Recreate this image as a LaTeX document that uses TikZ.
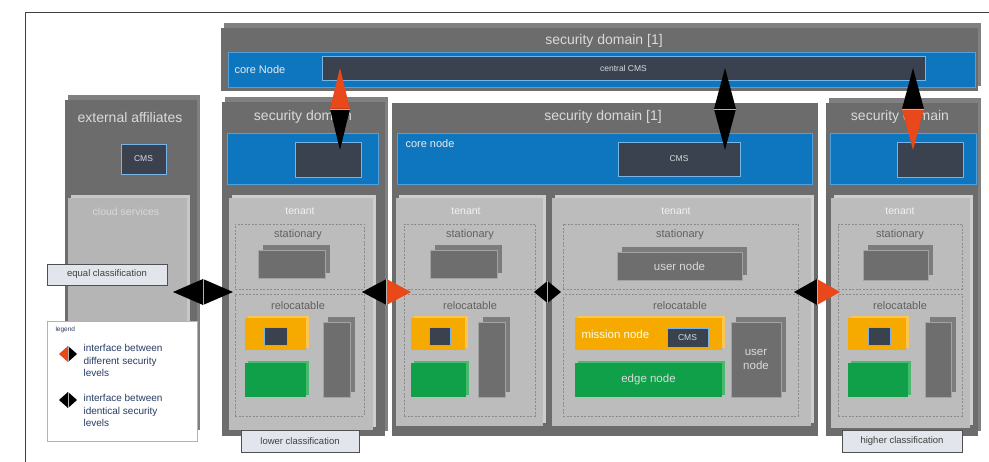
\documentclass[tikz,border=0pt]{standalone}
\usepackage{fontspec}
\setmainfont{Liberation Sans}
\usetikzlibrary{positioning, calc, fit, shadows}
\definecolor{cSD}{RGB}{108,108,108}
\definecolor{cSDs}{RGB}{128,128,128}
\definecolor{cBlue}{RGB}{14,118,190}
\definecolor{cBlueL}{RGB}{80,160,220}
\definecolor{cDark}{RGB}{58,66,80}
\definecolor{cDarkL}{RGB}{120,180,230}
\definecolor{cTen}{RGB}{188,188,188}
\definecolor{cTens}{RGB}{206,206,206}
\definecolor{cDash}{RGB}{138,138,138}
\definecolor{cUnit}{RGB}{110,110,110}
\definecolor{cUnits}{RGB}{124,124,124}
\definecolor{cYel}{RGB}{246,170,0}
\definecolor{cYels}{RGB}{250,198,80}
\definecolor{cGrn}{RGB}{16,160,74}
\definecolor{cGrns}{RGB}{72,186,112}
\definecolor{cRed}{RGB}{232,72,26}
\definecolor{cLab}{RGB}{226,230,236}
\definecolor{cLabL}{RGB}{80,80,80}
\definecolor{cLeg}{RGB}{40,60,100}
\definecolor{cTitle}{RGB}{218,218,218}

% interface diamond between two named points: from, to, half width, colour at from, colour at to
\newcommand{\iface}[5]{%
  \coordinate (m) at ($(#1)!0.5!(#2)$);
  \coordinate (p) at ($(m)!#3!90:(#2)$);
  \coordinate (q) at ($(m)!#3!-90:(#2)$);
  \fill[#4] (#1) -- (p) -- (q) -- cycle;
  \fill[#5] (#2) -- (p) -- (q) -- cycle;
  \draw[gray!60, line width=0.4pt] (p) -- (q);
}

\begin{document}
\begin{tikzpicture}[x=1pt, y=-1pt,
    box/.style={inner sep=0pt, outer sep=0pt},
    sdflat/.style={box, fill=cSD},
    sd/.style={sdflat, general shadow={fill=cSDs, shadow xshift=3pt, shadow yshift=5pt}},
    band/.style={box, fill=cBlue, draw=cBlueL, line width=0.6pt},
    cms/.style={box, fill=cDark, draw=cDarkL, line width=0.6pt},
    cmstext/.style={text=cTitle, font=\fontsize{8.5}{10}\selectfont},
    tenantbox/.style={box, fill=cTen, general shadow={fill=cTens, shadow xshift=3pt, shadow yshift=3pt}},
    zone/.style={box, draw=cDash, dashed, dash pattern=on 2pt off 1.5pt, line width=0.6pt},
    unit/.style={box, fill=cUnit, draw=cUnits!70!white, line width=0.4pt,
                 general shadow={fill=cUnits, shadow xshift=5pt, shadow yshift=5pt}},
    mission/.style={box, fill=cYel, general shadow={fill=cYels, shadow xshift=3pt, shadow yshift=2pt}},
    edgebox/.style={box, fill=cGrn, general shadow={fill=cGrns, shadow xshift=3pt, shadow yshift=2pt}},
    nodetext/.style={text=cTitle, font=\fontsize{11.5}{13.5}\selectfont, align=center},
    title/.style={text=cTitle, font=\fontsize{14}{16}\selectfont},
    tenanttext/.style={text=white!95!black, font=\fontsize{10.5}{12}\selectfont},
    tag/.style={text=black!62, font=\fontsize{11}{13}\selectfont},
    classbox/.style={box, fill=cLab, draw=cLabL, line width=0.8pt},
    classtext/.style={text=black!75, font=\fontsize{9.5}{11}\selectfont},
    legtext/.style={text=cLeg, font=\fontsize{10}{12.3}\selectfont, align=left, anchor=north west}]

    \useasboundingbox (0,0) rectangle (989,462);
    \draw[black!75, line width=1pt] (25,462) -- (25,13) -- (989,13);

    % top security domain
    \node[sd, fit={(221,28) (978,91)}] (sdT) {};
    \node[title] (sdTt) at (604,41) {security domain [1]};
    \node[band, fit={(228,52) (975,87)}] (coreT) {};
    \node[text=white!92!black, font=\fontsize{11}{13}\selectfont, anchor=west] (coreTt) at (231,70) {core Node};
    \node[cms, fit={(322,56) (925,80)}] (ccms) {};
    \node[cmstext] (ccmst) at (ccms.center) {central CMS};

    % external affiliates
    \node[sd, fit={(65,100) (197,435)}] (ext) {};
    \node[title] (extt) at (130,117) {external affiliates};
    \node[cms, fit={(121,144) (166,174)}] (extcms) {};
    \node[cmstext] (extcmst) at (extcms.center) {CMS};
    \node[box, fill=black!29, general shadow={fill=black!22, shadow xshift=3pt, shadow yshift=3pt},
          fit={(68,198) (187,432)}] (cloud) {};
    \node[text=black!15, font=\fontsize{10.5}{12}\selectfont] (cloudt) at (126,212) {cloud services};

    % lower security domain
    \node[sd, fit={(222,102) (385,436)}] (sdL) {};
    \node[title] (sdLt) at (303,117) {security domain};
    \node[band, fit={(227,133) (378,184)}] (coreL) {};
    \node[cms, fit={(295,142) (361,177)}] (cmsL) {};
    \node[tenantbox, fit={(229,198) (373,430)}] (tenL) {};
    \node[tenanttext] (tenLt) at (300,211) {tenant};
    \node[zone, fit={(235,224) (364,289)}] (statL) {};
    \node[tag] (statLt) at (298,235) {stationary};
    \node[unit, fit={(258,250) (325,278)}] (unitL) {};
    \node[zone, fit={(235,294) (364,416)}] (relL) {};
    \node[tag] (relLt) at (298,306) {relocatable};
    \node[mission, fit={(245,318) (306,350)}] (misL) {};
    \node[cms, fit={(264,327) (287,345)}] (misLc) {};
    \node[edgebox, fit={(245,363) (306,397)}] (edgL) {};
    \node[unit, fit={(323,322) (350,397)}] (userL) {};
    \node[classbox, fit={(241,430) (359,452)}] (lowc) {};
    \node[classtext] (lowct) at (lowc.center) {lower classification};

    % security domain [1]
    \node[sdflat, fit={(392,103) (818,436)}] (sdM) {};
    \node[title] (sdMt) at (603,117) {security domain [1]};
    \node[band, fit={(397,133) (812,184)}] (coreM) {};
    \node[text=white!92!black, font=\fontsize{11}{13}\selectfont, anchor=west] (coreMt) at (402,144) {core node};
    \node[cms, fit={(618,142) (740,176)}] (cmsM) {};
    \node[cmstext] (cmsMt) at (cmsM.center) {CMS};
    % tenant a
    \node[tenantbox, fit={(396,198) (543,426)}] (tenA) {};
    \node[tenanttext] (tenAt) at (466,211) {tenant};
    \node[zone, fit={(404,224) (535,289)}] (statA) {};
    \node[tag] (statAt) at (470,235) {stationary};
    \node[unit, fit={(430,250) (497,278)}] (unitA) {};
    \node[zone, fit={(404,294) (535,416)}] (relA) {};
    \node[tag] (relAt) at (470,306) {relocatable};
    \node[mission, fit={(411,318) (465,350)}] (misA) {};
    \node[cms, fit={(429,327) (450,345)}] (misAc) {};
    \node[edgebox, fit={(411,363) (466,397)}] (edgA) {};
    \node[unit, fit={(478,322) (505,397)}] (userA) {};
    % tenant b
    \node[tenantbox, fit={(552,198) (811,426)}] (tenB) {};
    \node[tenanttext] (tenBt) at (676,211) {tenant};
    \node[zone, fit={(563,224) (798,289)}] (statB) {};
    \node[tag] (statBt) at (680,235) {stationary};
    \node[unit, fit={(617,252) (742,280)}] (unitB) {};
    \node[nodetext] (unitBt) at (unitB.center) {user node};
    \node[zone, fit={(563,294) (798,416)}] (relB) {};
    \node[tag] (relBt) at (680,306) {relocatable};
    \node[mission, fit={(575,318) (722,350)}] (misB) {};
    \node[nodetext, text=white!88!yellow, anchor=west] (misBt) at (578,334) {mission node};
    \node[cms, fit={(667,328) (708,347)}] (misBc) {};
    \node[cmstext] (misBct) at (misBc.center) {CMS};
    \node[edgebox, fit={(575,363) (722,397)}] (edgB) {};
    \node[nodetext] (edgBt) at (edgB.center) {edge node};
    \node[unit, fit={(731,322) (781,397)}] (userB) {};
    \node[nodetext] (userBt) at (userB.center) {user\\node};

    % higher security domain
    \node[sd, fit={(826,103) (978,436)}] (sdR) {};
    \node[title] (sdRt) at (900,117) {security domain};
    \node[band, fit={(830,133) (976,184)}] (coreR) {};
    \node[cms, fit={(897,142) (963,177)}] (cmsR) {};
    \node[tenantbox, fit={(831,198) (970,428)}] (tenR) {};
    \node[tenanttext] (tenRt) at (900,211) {tenant};
    \node[zone, fit={(838,224) (962,289)}] (statR) {};
    \node[tag] (statRt) at (900,235) {stationary};
    \node[unit, fit={(863,250) (928,280)}] (unitR) {};
    \node[zone, fit={(838,294) (962,416)}] (relR) {};
    \node[tag] (relRt) at (900,306) {relocatable};
    \node[mission, fit={(848,318) (906,350)}] (misR) {};
    \node[cms, fit={(868,327) (890,345)}] (misRc) {};
    \node[edgebox, fit={(848,363) (908,397)}] (edgR) {};
    \node[unit, fit={(925,322) (951,397)}] (userR) {};
    \node[classbox, fit={(842,430) (962,452)}] (highc) {};
    \node[classtext] (highct) at (highc.center) {higher classification};

    % labels and legend
    \node[classbox, fit={(47,264) (167,285)}] (eqc) {};
    \node[classtext] (eqct) at (eqc.center) {equal classification};
    \node[box, fill=white, draw=black!30, line width=0.8pt, fit={(47,321) (197,441)}] (leg) {};
    \node[text=cLeg, font=\fontsize{6.5}{8}\selectfont, anchor=west] (legt) at (52,330) {legend};
    \coordinate (l1a) at (59,354);  \coordinate (l1b) at (77,354);
    \coordinate (l2a) at (59,400);  \coordinate (l2b) at (77,400);
    \iface{l1a}{l1b}{8pt}{cRed}{black}
    \iface{l2a}{l2b}{8pt}{black}{black}
    \node[legtext] (leg1) at (80,341) {interface between\\different security\\levels};
    \node[legtext] (leg2) at (80,391) {interface between\\identical security\\levels};

    % interfaces
    \coordinate (v1a) at (340,68);  \coordinate (v1b) at (340,150);
    \coordinate (v2a) at (725,68);  \coordinate (v2b) at (725,150);
    \coordinate (v3a) at (913,68);  \coordinate (v3b) at (913,150);
    \iface{v1a}{v1b}{10pt}{cRed}{black}
    \iface{v2a}{v2b}{11pt}{black}{black}
    \iface{v3a}{v3b}{11pt}{black}{cRed}
    \coordinate (h1a) at (173,292); \coordinate (h1b) at (233,292);
    \coordinate (h2a) at (362,292); \coordinate (h2b) at (411,292);
    \coordinate (h3a) at (534,292); \coordinate (h3b) at (561,292);
    \coordinate (h4a) at (794,292); \coordinate (h4b) at (840,292);
    \iface{h1a}{h1b}{13pt}{black}{black}
    \iface{h2a}{h2b}{13pt}{black}{cRed}
    \iface{h3a}{h3b}{11pt}{black}{black}
    \iface{h4a}{h4b}{13pt}{black}{cRed}
\end{tikzpicture}
\end{document}
